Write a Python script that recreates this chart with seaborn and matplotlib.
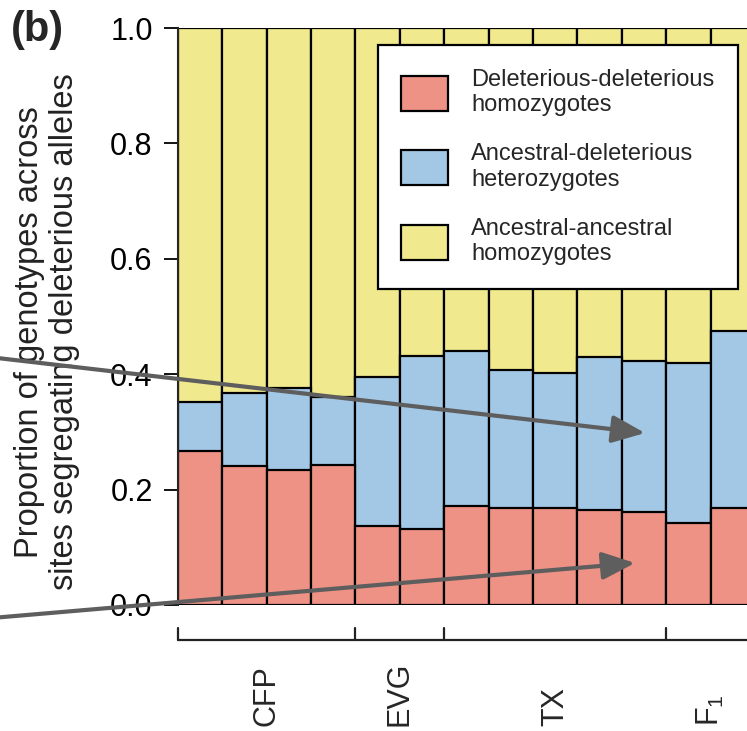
import matplotlib
matplotlib.use("Agg")
import matplotlib.pyplot as plt
from matplotlib.patches import Patch, FancyArrowPatch
from matplotlib.transforms import blended_transform_factory
import seaborn as sns
import pandas as pd
import numpy as np

# ---- data ----
groups = ["CFP", "EVG", "TX", "F$_\\mathregular{1}$"]
group_sizes = [4, 2, 5, 2]
del_del = [0.267, 0.241, 0.234, 0.243, 0.137, 0.132, 0.172, 0.168, 0.168, 0.165, 0.161, 0.142, 0.168]
anc_del = [0.085, 0.126, 0.142, 0.117, 0.258, 0.300, 0.269, 0.239, 0.234, 0.265, 0.262, 0.277, 0.307]
anc_anc = [1 - a - b for a, b in zip(del_del, anc_del)]
legend_labels = ["Deleterious-deleterious\nhomozygotes",
                 "Ancestral-deleterious\nheterozygotes",
                 "Ancestral-ancestral\nhomozygotes"]
yticks = [0.0, 0.2, 0.4, 0.6, 0.8, 1.0]
ylabel = "Proportion of genotypes across\nsites segregating deleterious alleles"

col_red = "#EF9286"
col_blue = "#A2C8E6"
col_yellow = "#F1E98E"

sns.set_style("ticks")
plt.rcParams["font.family"] = ["Liberation Sans", "DejaVu Sans"]
plt.rcParams["mathtext.fontset"] = "custom"
plt.rcParams["mathtext.rm"] = "Liberation Sans"

sample_ids = [f"s{i}" for i in range(len(del_del))]
df = pd.DataFrame({
    "sample": sample_ids,
    "red": del_del,
    "blue_cum": np.array(del_del) + np.array(anc_del),
    "total": np.array(del_del) + np.array(anc_del) + np.array(anc_anc),
})

W, H = 747, 731
fig = plt.figure(figsize=(W / 100, H / 100), dpi=100)
bar_px = 44.42
ax_left, ax_top, ax_bot = 177.7, 28, 605
ax = fig.add_axes([ax_left / W, (H - ax_bot) / H, len(del_del) * bar_px / W, (ax_bot - ax_top) / H])

kw = dict(width=1.0, edgecolor="black", linewidth=1.6, ax=ax, order=sample_ids, saturation=1)
sns.barplot(data=df, x="sample", y="total", color=col_yellow, **kw)
sns.barplot(data=df, x="sample", y="blue_cum", color=col_blue, **kw)
sns.barplot(data=df, x="sample", y="red", color=col_red, **kw)

ax.set_xlim(-0.5, len(del_del) - 0.5)
ax.set_ylim(0, 1)
ax.set_yticks(yticks)
ax.set_yticklabels([f"{v:.1f}" for v in yticks], fontsize=22)
ax.set_xticks([])
ax.set_xlabel("")
ax.set_ylabel("")
for s in ["top", "right", "bottom"]:
    ax.spines[s].set_visible(False)
ax.spines["left"].set_linewidth(1.5)
ax.tick_params(axis="y", length=10, width=1.3, pad=8, colors="black")

# y label
fig.text(47 / W, 1 - 332 / H, ylabel, rotation=90, ha="center", va="center",
         fontsize=23.5, multialignment="center", color="#222222")
# panel label
fig.text(11 / W, 1 - 30 / H, "(b)", fontsize=30, fontweight="bold", ha="left", va="center")

# group bracket axis
tr = blended_transform_factory(ax.transData, ax.transAxes)
line_y = -(640 - ax_bot) / (ax_bot - ax_top)
tick_y = -(628 - ax_bot) / (ax_bot - ax_top)
lab_y = -(726 - ax_bot) / (ax_bot - ax_top)
bounds = np.concatenate([[0], np.cumsum(group_sizes)]) - 0.5
ax.plot([bounds[0], bounds[-1] + 1], [line_y, line_y], transform=tr, color="#222222", lw=1.6, clip_on=False)
for b in bounds[:-1]:
    ax.plot([b, b], [line_y, tick_y], transform=tr, color="#222222", lw=1.6, clip_on=False)
for g, a, b in zip(groups, bounds[:-1], bounds[1:]):
    ax.text((a + b) / 2, lab_y, g, transform=tr, rotation=90, ha="center", va="bottom",
            fontsize=22, clip_on=False)

# legend
handles = [Patch(facecolor=c, edgecolor="black", linewidth=1.6) for c in [col_red, col_blue, col_yellow]]
leg = ax.legend(handles, legend_labels, loc="upper right",
                bbox_to_anchor=(738 / W, 1 - 45 / H), bbox_transform=fig.transFigure,
                fontsize=17, handlelength=1.95, handleheight=1.9, handletextpad=1.0,
                labelspacing=1.15, borderpad=1.0, borderaxespad=0, fancybox=False,
                framealpha=1, edgecolor="black")
leg.get_frame().set_linewidth(1.6)

# arrows
def px(x, y):
    return (x / W, 1 - y / H)

for (x0, y0), (x1, y1) in [((-20, 356), (645, 433)), ((-20, 619), (635, 563))]:
    arr = FancyArrowPatch(px(x0, y0), px(x1, y1), transform=fig.transFigure,
                          arrowstyle="-|>,head_length=1.0,head_width=0.42", mutation_scale=20,
                          color="#5E5E5E", lw=3, shrinkA=0, shrinkB=0, zorder=10)
    fig.add_artist(arr)

fig.savefig("out.png", dpi=100)
